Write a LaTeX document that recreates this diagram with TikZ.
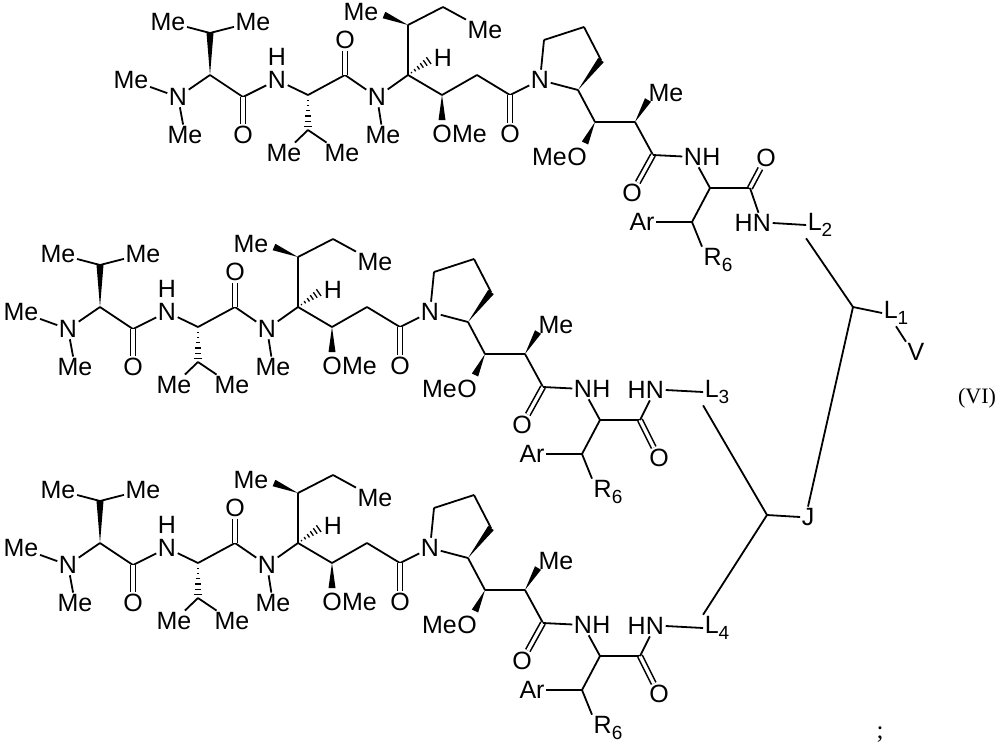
\documentclass[tikz,border=0pt]{standalone}
\usepackage{fontspec}
\setmainfont{Liberation Sans}
\newfontfamily\serif{Liberation Serif}
\usetikzlibrary{calc}
\tikzset{lab/.style={inner sep=1.5pt,font=\fontsize{25}{27}\selectfont},
 bd/.style={line width=1.8pt},
 dbl/.style={double,double distance=3.2pt,line width=1.6pt}}
\newcommand\wdg[2]{\fill ($(#1)$) -- ($(#2)!3.5pt!90:(#1)$) -- ($(#2)!3.5pt!-90:(#1)$) -- cycle;}
\newcommand\hsh[2]{\foreach \t in {0.15,0.3,0.45,0.6,0.75,0.9}{\pgfmathsetmacro\dd{\t*4.5}
 \draw[line width=1.3pt] ($(#1)!\t!(#2)!\dd pt!90:(#2)$) -- ($(#1)!\t!(#2)!\dd pt!-90:(#2)$);}}
\newcommand\sub[1]{\raisebox{-0.45ex}{\fontsize{19}{20}\selectfont #1}}
\newcommand\molecule[2]{%
\coordinate (#1a1) at (210,75); \coordinate (#1b1) at (210,33);
\node[lab] (#1Me1) at (131,80) {Me};
\node[lab] (#1N1) at (178,97) {N};
\node[lab] (#1Me1c) at (185,135) {Me};
\node[lab] (#1Me1a) at (168,22) {Me};
\node[lab] (#1Me1b) at (253,22) {Me};
\draw[bd] (#1Me1)--(#1N1) (#1N1)--(#1Me1c) (#1N1)--(#1a1);
\wdg{#1a1}{#1b1}
\draw[bd] (#1b1)--(#1Me1a) (#1b1)--(#1Me1b);
\coordinate (#1c1) at (243,97);
\node[lab] (#1O1) at (243,135) {O};
\node[lab] (#1N2) at (277,80) {N};
\node[lab] (#1H2) at (277,57) {H};
\draw[bd] (#1a1)--(#1c1) (#1c1)--(#1N2);
\draw[dbl] (#1c1)--(#1O1);
\coordinate (#1a2) at (308,95); \coordinate (#1b2) at (308,130);
\node[lab] (#1Me2a) at (284,153) {Me};
\node[lab] (#1Me2b) at (342,153) {Me};
\draw[bd] (#1N2)--(#1a2) (#1b2)--(#1Me2a) (#1b2)--(#1Me2b);
\hsh{#1a2}{#1b2}
\coordinate (#1c2) at (345,75);
\node[lab] (#1O2) at (345,40) {O};
\node[lab] (#1N3) at (377,97) {N};
\node[lab] (#1MeN3) at (383,135) {Me};
\draw[bd] (#1a2)--(#1c2) (#1c2)--(#1N3) (#1N3)--(#1MeN3);
\draw[dbl] (#1c2)--(#1O2);
\coordinate (#1a3) at (408,75); \coordinate (#1b3) at (408,25);
\coordinate (#1h3) at (431,59);
\node[lab] (#1H3) at (443,58) {H};
\draw[bd] (#1N3)--(#1a3) (#1a3)--(#1b3);
\hsh{#1a3}{#1h3}
\coordinate (#1w3) at (384,15);
\node[lab] (#1Me3) at (361,12) {Me};
\wdg{#1b3}{#1w3}
\coordinate (#1e1) at (443,7);
\node[lab] (#1Me3b) at (485,30) {Me};
\draw[bd] (#1b3)--(#1e1) (#1e1)--(#1Me3b);
\coordinate (#1c4) at (442,95); \coordinate (#1w4) at (442,120);
\node[lab] (#1O4) at (442,134) {O};
\node[lab,anchor=west,inner sep=0pt] (#1Me4) at ([xshift=-1.5pt]#1O4.east) {Me};
\draw[bd] (#1a3)--(#1c4);
\wdg{#1c4}{#1w4}
\coordinate (#1c5) at (477,75); \coordinate (#1c6) at (510,95);
\node[lab] (#1O6) at (510,134) {O};
\node[lab] (#1N7) at (540,80) {N};
\draw[bd] (#1c4)--(#1c5) (#1c5)--(#1c6) (#1c6)--(#1N7);
\draw[dbl] (#1c6)--(#1O6);
\coordinate (#1r1) at (544,40); \coordinate (#1r2) at (584,27);
\coordinate (#1r3) at (601,60); \coordinate (#1r4) at (578,90);
\draw[bd,line join=round] (#1N7)--(#1r1) (#1r1)--(#1r2) (#1r2)--(#1r3) (#1r4)--(#1N7);
\wdg{#1r4}{#1r3}
\coordinate (#1c8) at (595,122); \coordinate (#1w8) at (585,143);
\node[lab] (#1O8) at (577,157) {O};
\node[lab,anchor=east,inner sep=0pt] (#1Me8) at ([xshift=1.5pt]#1O8.west) {Me};
\draw[bd] (#1r4)--(#1c8);
\wdg{#1c8}{#1w8}
\coordinate (#1c9) at (635,122); \coordinate (#1w9) at (648,100);
\node[lab] (#1Me9) at (666,93) {Me};
\draw[bd] (#1c8)--(#1c9);
\wdg{#1c9}{#1w9}
\coordinate (#1c10) at (653,155);
\node[lab] (#1O10) at (632,193) {O};
\draw[bd] (#1c9)--(#1c10);
\draw[dbl] (#1c10)--(#1O10);
\node[lab] (#1N11) at (693,157) {N};
\node[lab,anchor=west,inner sep=0pt] (#1H11) at ([xshift=-1.5pt]#1N11.east) {H};
\draw[bd] (#1c10)--(#1N11);
\coordinate (#1a11) at (710,188); \coordinate (#1b11) at (692,222);
\node[lab] (#1Ar) at (642,222) {Ar};
\node[lab] (#1R) at (718,260) {R\sub{6}};
\draw[bd] (#1N11)--(#1a11) (#1a11)--(#1b11) (#1b11)--(#1Ar) (#1b11)--(#1R.north west);
\coordinate (#1c12) at (750,188);
\draw[bd] (#1a11)--(#1c12);
\ifnum#2=0
 \node[lab] (#1O12) at (766,158) {O};
 \node[lab] (#1N13) at (762,223) {N};
 \node[lab] (#1L) at (820,225) {L\sub{\csname #1n\endcsname}};
\else
 \node[lab] (#1O12) at (769,226) {O};
 \node[lab] (#1N13) at (765,158) {N};
 \node[lab] (#1L) at (827,160) {L\sub{\csname #1n\endcsname}};
\fi
\node[lab,anchor=east,inner sep=0pt] (#1H13) at ([xshift=1.5pt]#1N13.west) {H};
\draw[dbl] (#1c12)--(#1O12);
\draw[bd] (#1c12)--(#1N13) (#1N13.east)--(#1L.west);
}
\begin{document}
\begin{tikzpicture}[x=1pt,y=-1pt]
\useasboundingbox (0,0) rectangle (1000,750);
\def\tn{2}\def\mn{3}\def\bn{4}
\begin{scope}\molecule{t}{0}\end{scope}
\begin{scope}[shift={(-110,232)}]\molecule{m}{1}\end{scope}
\begin{scope}[shift={(-110,468)}]\molecule{b}{1}\end{scope}
\coordinate (P1) at (853,307);
\coordinate (P2) at (767,515);
\node[lab] (L1) at (896,313) {L\sub{1}};
\node[lab] (V) at (916,352) {V};
\node[lab] (J) at (808,517) {J};
\draw[bd] (tL.south west)--(P1) (P1)--(L1.west) (P1)--(J.north) (L1.south)--(V.north west)
 (mL.south west)--(P2) (P2)--(J.west) (P2)--(bL.north west);
\node[font=\serif\fontsize{22}{24}\selectfont] (VI) at (977,398) {(VI)};
\node[font=\serif\fontsize{25}{27}\selectfont] (semi) at (880,735) {;};
\end{tikzpicture}
\end{document}
